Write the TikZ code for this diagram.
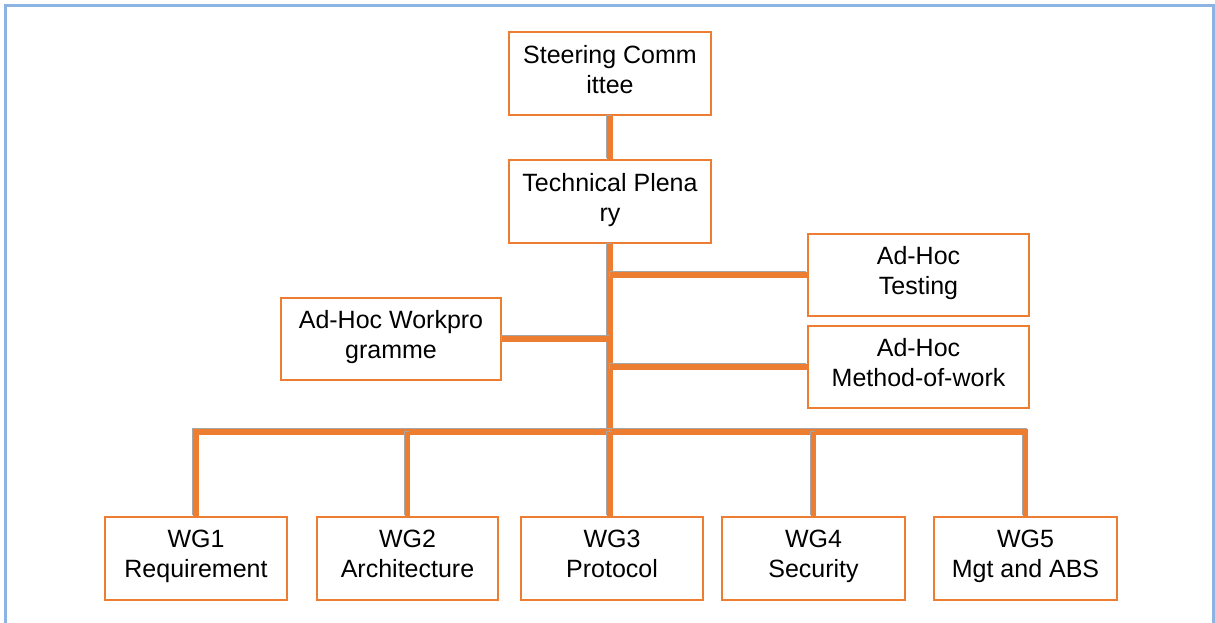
\documentclass[tikz,border=0pt]{standalone}
\usepackage{fontspec}
\setmainfont{Liberation Sans}
\usepackage{tikz}
\usetikzlibrary{positioning}
\definecolor{boxorange}{HTML}{ED7D31}
\definecolor{frameblue}{HTML}{8DB3E2}

\begin{document}
\begin{tikzpicture}[x=1pt,y=-1pt,
  box/.style={draw=boxorange, line width=2pt, fill=white, align=center,
    inner sep=0pt, minimum height=83pt, font=\fontsize{25}{30}\selectfont,
    execute at begin node=\strut, execute at end node=\strut},
  link/.style={draw=boxorange, line width=5.5pt,
    preaction={draw=black!35, line width=5.5pt, transform canvas={xshift=-1pt,yshift=1pt}}}]
\useasboundingbox (0,0) rectangle (1215,623);
\clip (0,0) rectangle (1215,623);
\draw[frameblue, line width=3pt] (5,6) rectangle (1213,660);

% top of the tree
\node[box, minimum width=202pt] (steer) at (610,73.5) {Steering Comm\\ittee};
\node[box, minimum width=202pt] (plenary) at (610,201.5) {Technical Plena\\ry};

% ad-hoc groups
\node[box, minimum width=221pt, minimum height=82pt] (testing) at (918.5,275) {Ad-Hoc\\Testing};
\node[box, minimum width=221pt, minimum height=82pt] (method) at (918.5,367) {Ad-Hoc\\Method-of-work};
\node[box, minimum width=220pt, minimum height=82pt] (workprog) at (391,339) {Ad-Hoc Workpro\\gramme};

% working groups
\node[box, minimum width=182pt] (wg1) at (196,558.5) {WG1\\Requirement};
\node[box, minimum width=181pt] (wg2) at (407.5,558.5) {WG2\\Architecture};
\node[box, minimum width=182pt] (wg3) at (612,558.5) {WG3\\Protocol};
\node[box, minimum width=183pt] (wg4) at (813.5,558.5) {WG4\\Security};
\node[box, minimum width=183pt] (wg5) at (1025.5,558.5) {WG5\\Mgt and ABS};

\coordinate (bus) at (610,432);

% connectors
\draw[link] (steer.south) -- (plenary.north);
\draw[link] (plenary.south) -- (bus);
\draw[link] (testing.west) -- (testing.west -| bus);
\draw[link] (method.west) -- (method.west -| bus);
\draw[link] (workprog.east) -- (workprog.east -| bus);
\draw[link] (wg1.north) |- (bus);
\draw[link] (bus) -| (wg5.north);
\draw[link] (wg2.north) -- (wg2.north |- bus);
\draw[link] (bus) -- (bus |- wg3.north);
\draw[link] (wg4.north) -- (wg4.north |- bus);
\end{tikzpicture}
\end{document}
